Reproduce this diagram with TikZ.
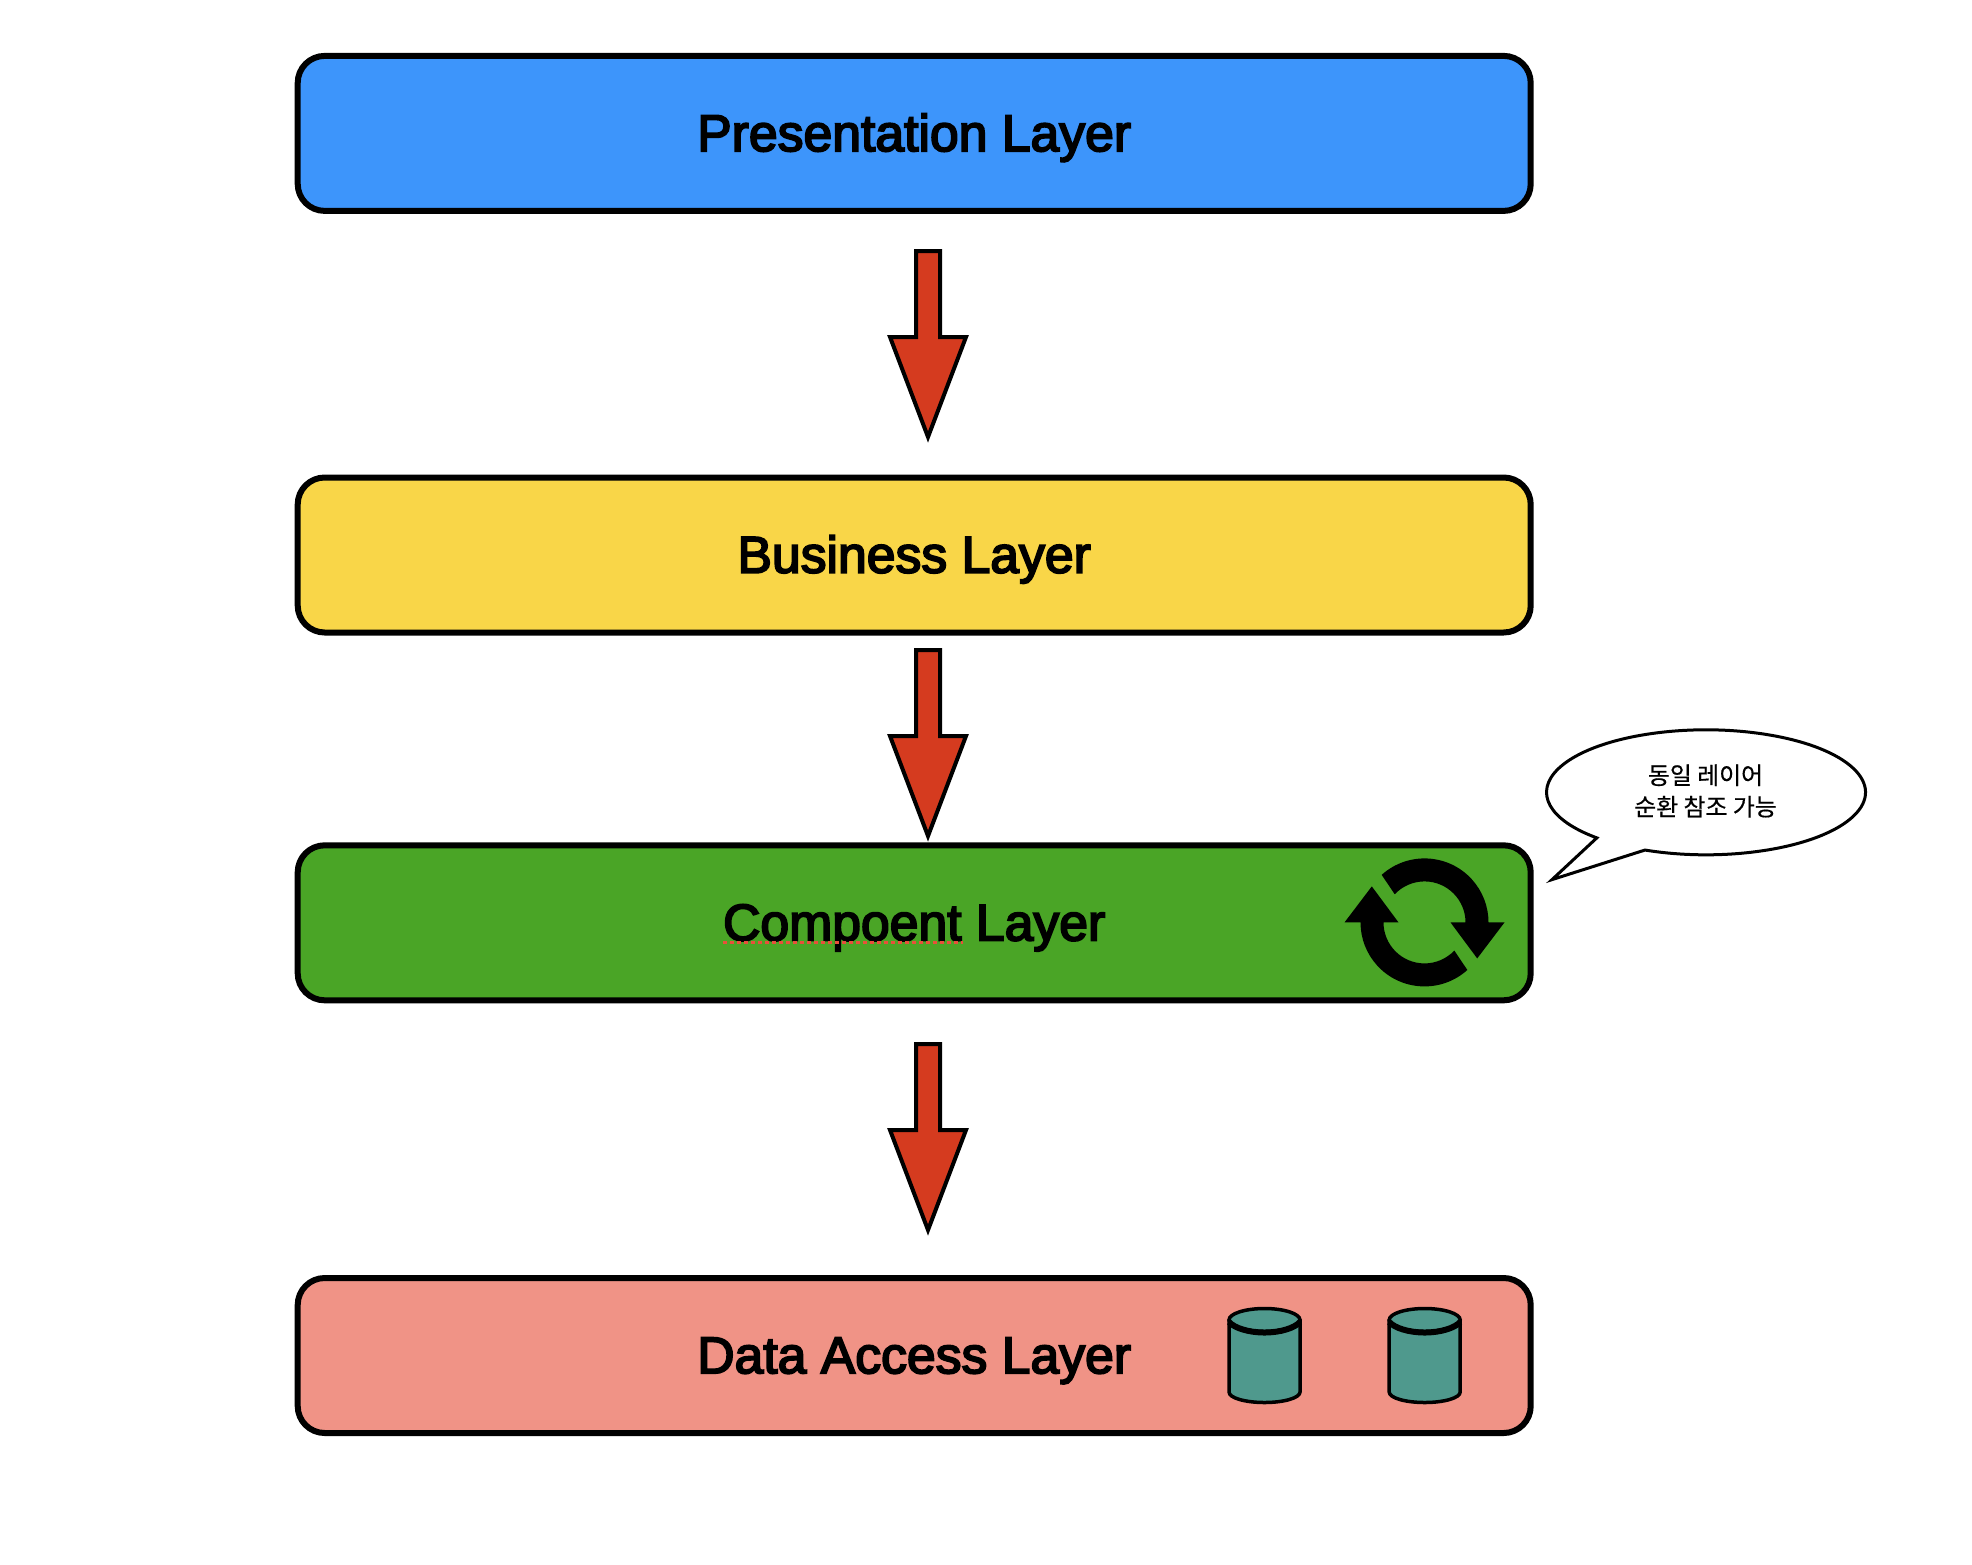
\documentclass[tikz,border=0pt]{standalone}
\usepackage{fontspec}
\setmainfont{Liberation Sans}
\newfontfamily\layerfont[FakeBold=3.6]{Liberation Sans}
\newfontfamily\krfont[FakeBold=0.5]{Noto Sans CJK KR}
\definecolor{blueL}{HTML}{3D95FB}
\definecolor{yellowL}{HTML}{F9D648}
\definecolor{greenL}{HTML}{4AA526}
\definecolor{salmonL}{HTML}{F09386}
\definecolor{redA}{HTML}{D53B1F}
\definecolor{tealC}{HTML}{4F998D}
\definecolor{spell}{HTML}{E8503A}
\tikzset{
  layerbox/.style={draw=black,line width=6pt,rounded corners=27pt,minimum width=1233pt,minimum height=155pt,
    inner sep=0pt,text height=35.4pt,text depth=0pt,font=\layerfont\fontsize{51.7}{60}\selectfont},
  blockarrow/.pic={
    \draw[line width=4pt,miter limit=10,fill=redA,draw=black]
      (-11.5,1) -- (12.5,1) -- (12.5,87) -- (38.5,87) -- (0.5,187) -- (-37.5,87) -- (-11.5,87) -- cycle;
  },
  dbcyl/.pic={
    \draw[line width=3.5pt,fill=tealC,draw=black]
      (-35.5,13) -- (-35.5,84) .. controls (-35.5,90) and (-19,94.5) .. (0,94.5) .. controls (19,94.5) and (35.5,90) .. (35.5,84) -- (35.5,13) -- cycle;
    \draw[line width=3.5pt,fill=tealC,draw=black] (0,12) ellipse [x radius=35.5pt,y radius=11.5pt];
    \draw[line width=6pt,draw=black,line cap=butt] (-35.5,14) .. controls (-30,20) and (-16,24.5) .. (0,24.5) .. controls (16,24.5) and (30,20) .. (35.5,14);
  },
  cyclearc/.pic={
    \fill[black] (132:64) arc[start angle=132,end angle=0,radius=64] -- (80,0) -- (52.7,-36) -- (26,0) -- (41,0)
      arc[start angle=0,end angle=136.6,radius=41] -- cycle;
  }
}
\begin{document}
\begin{tikzpicture}[x=1pt,y=-1pt]
\useasboundingbox (0,0) rectangle (1972,1564);
\fill[white] (0,0) rectangle (1972,1564);

\node[layerbox,fill=blueL]   (pres) at (914.2,133.4) {Presentation Layer};
\node[layerbox,fill=yellowL] (bus)  at (914.2,555)   {Business Layer};
\node[layerbox,fill=greenL]  (comp) at (914.2,922.8) {Compoent Layer};
\node[layerbox,fill=salmonL] (data) at (914.2,1355.5) {Data Access Layer};

\draw[spell,line width=3pt,dash pattern=on 4pt off 3pt] (723,942.3) -- (963,942.3);

\pic (a1) at (927.5,250) {blockarrow};
\pic (a2) at (927.5,649) {blockarrow};
\pic (a3) at (927.5,1043) {blockarrow};

\begin{scope}[shift={(1424.5,922.4)},y=1pt]
  \pic (c1) at (0,0) {cyclearc};
  \pic[rotate=180] (c2) at (0,0) {cyclearc};
\end{scope}

\pic (d1) at (1264.5,1308) {dbcyl};
\pic (d2) at (1424.7,1308) {dbcyl};

\begin{scope}[shift={(1706,792.3)},y=1pt]
  \draw[line width=3pt,fill=white,draw=black,line join=miter]
    (-154,-87.3) coordinate (tip) -- (247.5:159.5 and 62.5)
    arc[start angle=247.5,end angle=586.8,x radius=159.5,y radius=62.5] -- cycle;
\end{scope}
\node[font=\krfont\fontsize{23.9}{31.5}\selectfont,align=center,inner sep=0pt] (note) at (1705.5,791) {동일 레이어\\순환 참조 가능};
\end{tikzpicture}
\end{document}
